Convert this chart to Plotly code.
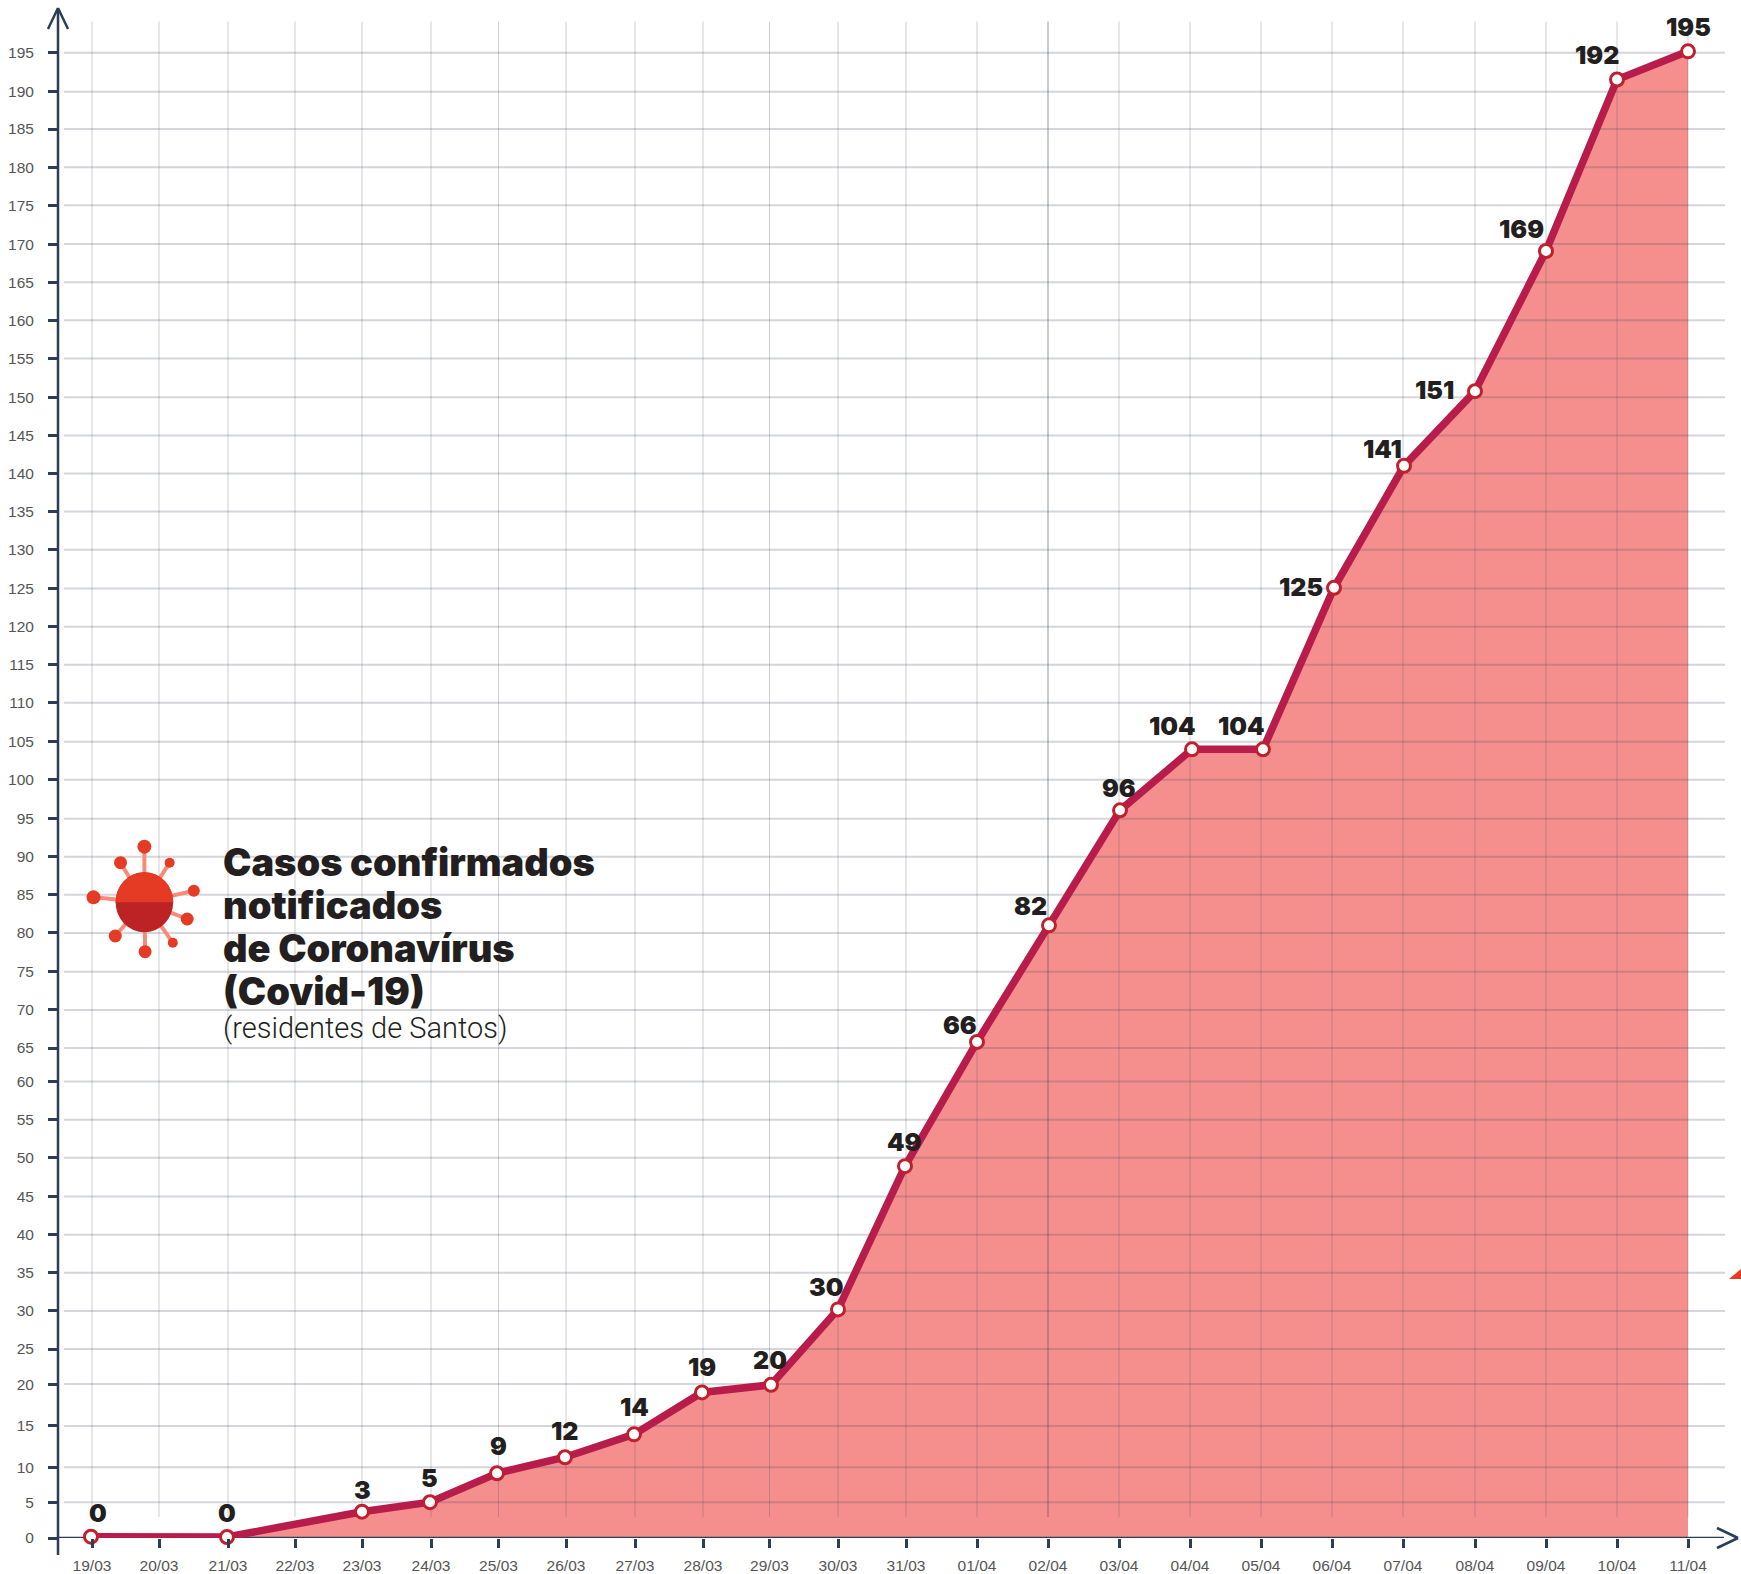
import math
import plotly.graph_objects as go

# ---------- data ----------
dates = ["19/03","20/03","21/03","22/03","23/03","24/03","25/03","26/03","27/03","28/03","29/03","30/03",
         "31/03","01/04","02/04","03/04","04/04","05/04","06/04","07/04","08/04","09/04","10/04","11/04"]
# the source chart's days are not evenly spaced: horizontal axis position of each day
date_pos = [92,159,228,295,362,431,498.5,566,635,703,769.5,838,906,977,1048,1119,1190,1261,1332,1403,1475,1546,1617,1688]
# position of each plotted point along the same axis (22 marked days)
point_dates = ["19/03","21/03","23/03","24/03","25/03","26/03","27/03","28/03","29/03","30/03","31/03",
               "01/04","02/04","03/04","04/04","05/04","06/04","07/04","08/04","09/04","10/04","11/04"]
point_pos = [91,227,362,430,497,565,634,702,771,838,905,977,1049,1120,1192,1263,1334,1404,1475,1546,1617,1688]
# height as drawn in the source
point_drawn = [0.17,0.13,3.45,4.7,8.5,10.6,13.6,19.1,20.1,30,48.8,65.1,80.4,95.5,103.5,103.5,124.7,140.7,150.5,168.9,191.4,195.1]
# value printed beside each point
point_labels = ["0","0","3","5","9","12","14","19","20","30","49","66","82","96","104","104","125","141","151","169","192","195"]
label_dx = [7,0,0,-1,1,-1,0,0,-1,-12,-1,-17,-19,-1,-20,-22,-33,-22,-41,-25,-20,0]
label_dy = [-24,-24,-22,-24,-27,-26,-27,-25,-25,-22,-24,-17,-19,-22,-23,-23,-1,-17,-1,-22,-25,-24]

y_labels = [str(v) for v in range(0,200,5)]
y_pos = [0,4.7,9.3,14.7,20.2,24.8,29.8,34.8,39.8,44.8,49.9,54.9,59.9,64.3,69.3,74.3,79.4,84.4,89.4,94.4,
         99.5,104.5,109.6,114.6,119.6,124.6,129.7,134.7,139.7,144.7,149.7,154.8,159.8,164.8,169.8,174.9,179.9,184.9,189.8,194.9]

title_lines = ["Casos confirmados","notificados","de Coronavírus","(Covid-19)"]
subtitle = "(residentes de Santos)"

# ---------- layout constants ----------
W,H = 1741,1574
L,R,B = 58,3,36
PW = W-L-R; PH = H-B
YTOP = PH/7.62
AXIS="#2c3e55"; LINE="#b71c4b"; RING="#c01f2e"; FILL="#f58f8e"; GRIDC="rgba(60,70,90,0.22)"; VGRID="rgba(60,70,90,0.26)"
px = lambda x:(x-L)/PW
py = lambda y:(PH-y)/PH

fig = go.Figure()
fig.add_trace(go.Scatter(x=point_pos,y=point_drawn,mode="none",fill="tozeroy",fillcolor=FILL,hoverinfo="skip",showlegend=False))

hx,hy=[],[]
for v in y_pos[1:]:
    hx+= [64,1725,None]; hy+=[v,v,None]
fig.add_trace(go.Scatter(x=hx,y=hy,mode="lines",line=dict(color=GRIDC,width=2),hoverinfo="skip",showlegend=False))
vx,vy=[],[]
for x in date_pos:
    vx+=[x,x,None]; vy+=[2.76,199,None]
fig.add_trace(go.Scatter(x=vx,y=vy,mode="lines",line=dict(color=VGRID,width=1),hoverinfo="skip",showlegend=False))
# the 02/04 rule is darker in the source
fig.add_trace(go.Scatter(x=[1048,1048],y=[2.76,199],mode="lines",line=dict(color="rgba(60,70,90,0.35)",width=1),hoverinfo="skip",showlegend=False))

fig.add_trace(go.Scatter(x=[41,1724],y=[0,0],mode="lines",line=dict(color=AXIS,width=2.5),hoverinfo="skip",showlegend=False,cliponaxis=False))
fig.add_trace(go.Scatter(x=point_pos,y=point_drawn,mode="lines+markers",cliponaxis=False,showlegend=False,
    line=dict(color=LINE,width=7.5,shape="linear"),
    marker=dict(size=13,color="white",line=dict(color=RING,width=3)),
    hovertemplate="%{y}<extra></extra>"))

shapes=[]
def seg(x0,y0,x1,y1,c=AXIS,w=2.5,layer="above"):
    shapes.append(dict(type="line",xref="paper",yref="paper",x0=px(x0),y0=py(y0),x1=px(x1),y1=py(y1),
                       line=dict(color=c,width=w),layer=layer))
seg(58,1555,58,10)
seg(48,29,58,8); seg(58,8,68,29)
seg(1717,1528,1738,1538); seg(1738,1538,1717,1548)

cx,cy,rx,ry = 144.4,902.3,28.8,30
balls=[(212,80,7),(144,128,6.5),(284,128,5),(353,212,6),(67,232,7),(334,297,6.5),(293,368,5),(214,395,6.5),(129,348,6.5)]
balls=[(70+a/2.85,820+b/3,r) for a,b,r in balls]
for bx,by,r in balls:
    seg(cx,cy,bx,by,"#fa8a78",4)
def ell(x,y,a,b,c):
    shapes.append(dict(type="circle",xref="paper",yref="paper",x0=px(x-a),x1=px(x+a),y0=py(y+b),y1=py(y-b),
                       fillcolor=c,line=dict(width=0)))
ell(cx,cy,rx,ry,"#bd2325")
pts=[(cx+rx*math.cos(math.pi*i/40),cy-ry*math.sin(math.pi*i/40)) for i in range(41)]
path="M "+" L ".join(f"{px(a):.5f},{py(b):.5f}" for a,b in pts)+" Z"
shapes.append(dict(type="path",xref="paper",yref="paper",path=path,fillcolor="#e53a24",line=dict(width=0)))
for bx,by,r in balls:
    ell(bx,by,r,r,"#e53a24")
tri="M "+" L ".join(f"{px(a):.5f},{py(b):.5f}" for a,b in [(1729,1279),(1741,1269),(1741,1279)])+" Z"
shapes.append(dict(type="path",xref="paper",yref="paper",path=tri,fillcolor="#e53a24",line=dict(width=0)))

ann=[]
for x,y,t,dx,dy in zip(point_pos,point_drawn,point_labels,label_dx,label_dy):
    ann.append(dict(x=x,y=y,xref="x",yref="y",text=t,showarrow=False,xanchor="center",yanchor="middle",
                    xshift=dx,yshift=-dy,font=dict(family="Inter",size=25,weight=900,color="#231f20")))
title_mid=[862,905,948,991]
for t,m in zip(title_lines,title_mid):
    ann.append(dict(x=px(223),y=py(m),xref="paper",yref="paper",text=t,showarrow=False,xanchor="left",yanchor="middle",
                    xshift=-2,font=dict(family="Inter",size=38,weight=900,color="#231f20")))
ann.append(dict(x=px(223),y=py(1028),xref="paper",yref="paper",text=subtitle,showarrow=False,xanchor="left",yanchor="middle",
                xshift=-2,font=dict(family="Roboto",size=29,weight=300,color="#231f20")))

fig.update_layout(width=W,height=H,margin=dict(l=L,r=R,t=0,b=B,autoexpand=False),paper_bgcolor="white",plot_bgcolor="white",
    showlegend=False,shapes=shapes,annotations=ann,hovermode="closest",
    font=dict(family="Liberation Sans",size=15.5,color="#555555"),
    xaxis=dict(range=[L,W-R],tickmode="array",tickvals=date_pos,ticktext=dates,showgrid=False,zeroline=False,showline=False,
               ticks="outside",ticklen=9,tickwidth=2.5,tickcolor=AXIS,ticklabelstandoff=4,tickangle=0),
    yaxis=dict(range=[0,YTOP],tickmode="array",tickvals=y_pos,ticktext=y_labels,showgrid=False,zeroline=False,showline=False,
               ticks="outside",ticklen=9,tickwidth=2.5,tickcolor=AXIS,ticklabelstandoff=11))
fig.write_html("out.html",config=dict(displayModeBar=False),post_script="document.body.style.margin='0';document.body.style.overflow='hidden';")
